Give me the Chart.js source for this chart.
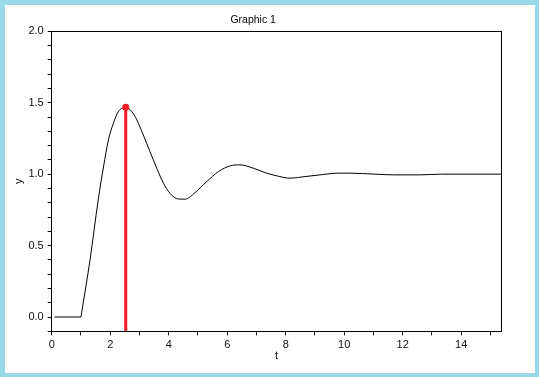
<!DOCTYPE html>
<html>
<head>
<meta charset="utf-8">
<script src="https://cdn.jsdelivr.net/npm/chart.js@4"></script>
<style>
  html, body { margin: 0; padding: 0; }
  body { width: 539px; height: 377px; background: #99d9ea; position: relative; overflow: hidden; }
  #wrap { position: absolute; left: 5px; top: 5px; width: 530px; height: 368px; background: #fff; }
</style>
</head>
<body>
<div id="wrap"><canvas id="graphChart" width="530" height="368"></canvas></div>
<script>
// ============================
// DATA
// ============================

// dead time: flat part before the response starts
const tFlat = [0.1, 1.0];
const yFlat = [0.0, 0.0];

// response after t = 1
const tValues = [1.0, 1.31, 1.59, 1.77, 1.94, 2.11, 2.28, 2.54, 2.73, 2.91, 3.13, 3.36, 3.59, 3.82, 4.04, 4.33,
                 4.56, 4.9, 5.3, 5.7, 6.1, 6.44, 6.89, 7.35, 7.8, 8.15, 8.66, 9.17, 9.8, 10.2, 11.05, 11.68,
                 12.6, 13.3, 15.37];
const yValues = [0.0, 0.40, 0.82, 1.05, 1.24, 1.357, 1.438, 1.468, 1.44, 1.38, 1.275, 1.158, 1.042, 0.937, 0.867, 0.826,
                 0.825, 0.871, 0.948, 1.018, 1.058, 1.065, 1.042, 1.007, 0.983, 0.972, 0.983, 0.995, 1.007, 1.007, 1.0, 0.995,
                 0.995, 1.0, 1.0];

const peakT = 2.53;
const peakY = 1.468;

const xMin = 0, xMax = 15.37;
const yMin = -0.1, yMax = 2.0;

const toPoints = (ts, ys) => ts.map((t, i) => ({ x: t, y: ys[i] }));

// ============================
// GRAPHIC 1
// ============================

const ctx = document.getElementById('graphChart');

const axisFont = { family: 'Liberation Sans, Arial, sans-serif', size: 11 };

new Chart(ctx, {

    type: 'scatter',

    data: {

        datasets: [{
            data: [{ x: peakT, y: yMin }, { x: peakT, y: peakY }],
            showLine: true,
            borderColor: '#ed1c24',
            backgroundColor: '#ed1c24',
            borderWidth: 3,
            pointRadius: [0, 3.5],
            pointBorderWidth: 0
        }, {
            data: toPoints(tFlat, yFlat),
            showLine: true,
            borderColor: '#000',
            borderWidth: 1,
            pointRadius: 0
        }, {
            data: toPoints(tValues, yValues),
            showLine: true,
            borderColor: '#000',
            borderWidth: 1,
            cubicInterpolationMode: 'monotone',
            pointRadius: 0
        }]

    },

    options: {

        responsive: false,
        animation: false,

        layout: { padding: { left: 0, right: 33.7, top: 0, bottom: 0 } },

        plugins: {
            legend: { display: false },
            tooltip: { enabled: false },
            title: {
                display: true,
                text: 'Graphic 1',
                color: '#000',
                font: { family: 'Liberation Sans, Arial, sans-serif', size: 10.5, weight: 'normal', lineHeight: 1.2 },
                padding: { top: 8.5, bottom: 5.2 }
            }
        },

        scales: {

            x: {
                type: 'linear',
                min: xMin,
                max: xMax,
                afterFit: s => { s.height = 41.7; },
                border: { display: true, color: '#000', width: 1 },
                grid: { drawOnChartArea: false, drawTicks: true, tickLength: 4, color: '#000' },
                ticks: {
                    stepSize: 1,
                    includeBounds: false,
                    autoSkip: false,
                    maxRotation: 0,
                    padding: 3,
                    color: '#111',
                    font: axisFont,
                    callback: v => (Math.abs(v / 2 - Math.round(v / 2)) < 1e-6 ? String(Math.round(v)) : '')
                },
                title: { display: true, text: 't', color: '#000', font: axisFont, padding: { top: 0, bottom: 10 } }
            },

            x2: {
                type: 'linear',
                position: 'top',
                min: xMin,
                max: xMax,
                afterFit: s => { s.height = 0; },
                border: { display: true, color: '#000', width: 1 },
                grid: { drawOnChartArea: false, drawTicks: false },
                ticks: { display: false }
            },

            y: {
                type: 'linear',
                min: yMin,
                max: yMax,
                afterFit: s => { s.width = 46.7; },
                border: { display: true, color: '#000', width: 1 },
                grid: { drawOnChartArea: false, drawTicks: true, tickLength: 4, color: '#000' },
                ticks: {
                    stepSize: 0.1,
                    includeBounds: false,
                    autoSkip: false,
                    padding: 4,
                    color: '#111',
                    font: axisFont,
                    callback: v => (Math.abs(v * 2 - Math.round(v * 2)) < 1e-6 ? v.toFixed(1) : '')
                },
                title: { display: true, text: 'y', color: '#000', font: axisFont, padding: { top: 7, bottom: 0 } }
            },

            y2: {
                type: 'linear',
                position: 'right',
                min: yMin,
                max: yMax,
                afterFit: s => { s.width = 0; },
                border: { display: true, color: '#000', width: 1 },
                grid: { drawOnChartArea: false, drawTicks: false },
                ticks: { display: false }
            }

        }

    }

});
</script>
</body>
</html>
